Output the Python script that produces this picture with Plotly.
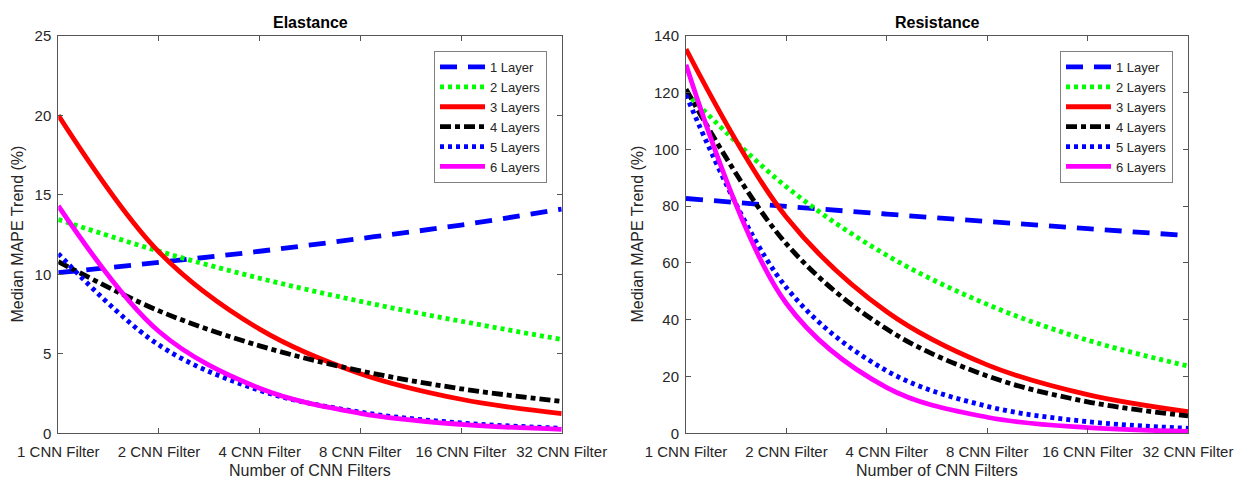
import plotly.graph_objects as go

filters = ["1 CNN Filter", "2 CNN Filter", "4 CNN Filter", "8 CNN Filter", "16 CNN Filter", "32 CNN Filter"]
layer_names = ["1 Layer", "2 Layers", "3 Layers", "4 Layers", "5 Layers", "6 Layers"]

# Elastance median MAPE trend (%)
el_1 = [10.1, 10.75, 11.45, 12.25, 13.1, 14.1]
el_2 = [13.45, 11.45, 9.75, 8.3, 7.05, 5.9]
el_3 = [20.0, 11.4, 6.55, 3.75, 2.14, 1.23]
el_4 = [10.8, 7.7, 5.5, 3.93, 2.8, 2.0]
el_5 = [11.3, 5.55, 2.7, 1.33, 0.65, 0.32]
el_6 = [14.3, 6.4, 2.83, 1.26, 0.56, 0.25]

# Resistance median MAPE trend (%)
re_1 = [82.7, 79.9, 77.2, 74.6, 72.1, 69.6]
re_2 = [120.0, 86.8, 62.7, 45.4, 32.8, 23.7]
re_3 = [135.3, 76.1, 42.8, 24.1, 13.6, 7.6]
re_4 = [121.2, 66.7, 36.7, 20.2, 11.1, 6.1]
re_5 = [119.2, 51.3, 22.0, 9.5, 4.1, 1.76]
re_6 = [129.8, 45.7, 16.1, 5.66, 2.0, 0.7]

el_ticks = [0, 5, 10, 15, 20, 25]
re_ticks = [0, 20, 40, 60, 80, 100, 120, 140]

colors = ["#0000FF", "#00FF00", "#FF0000", "#000000", "#0000FF", "#FF00FF"]
dashes = ["17px,11px", "4px,4px", "solid", "11px,4px,5px,4px", "4px,4px", "solid"]

FONT = "Liberation Sans, Arial, Helvetica, sans-serif"
TXT = "#262626"

fig = go.Figure()

for i, ys in enumerate([el_1, el_2, el_3, el_4, el_5, el_6]):
    fig.add_trace(go.Scatter(
        x=filters, y=ys, mode="lines", name=layer_names[i],
        line=dict(color=colors[i], width=4.8, dash=dashes[i], shape="spline"),
        xaxis="x", yaxis="y", legend="legend"))

for i, ys in enumerate([re_1, re_2, re_3, re_4, re_5, re_6]):
    fig.add_trace(go.Scatter(
        x=filters, y=ys, mode="lines", name=layer_names[i],
        line=dict(color=colors[i], width=4.8, dash=dashes[i], shape="spline"),
        xaxis="x2", yaxis="y2", legend="legend2"))

W, H = 1247, 481
left_dom = [58.3 / W, 561.7 / W]
right_dom = [686 / W, 1188 / W]
y_dom = [1 - 433.3 / H, 1 - 35.8 / H]

axis_common = dict(
    showline=True, linecolor="#555555", linewidth=1, mirror="ticks",
    ticks="inside", ticklen=5, tickcolor="#555555", showgrid=False, zeroline=False,
    automargin=False,
    tickfont=dict(family=FONT, size=15, color=TXT),
)

legend_common = dict(
    xanchor="right", yanchor="top", bgcolor="white", bordercolor="#808080",
    borderwidth=1, font=dict(family=FONT, size=13, color=TXT), tracegroupgap=0,
    itemwidth=45,
)

fig.update_layout(
    width=W, height=H,
    margin=dict(l=0, r=0, t=0, b=0, autoexpand=False),
    paper_bgcolor="white", plot_bgcolor="white",
    font=dict(family=FONT, color=TXT),
    xaxis=dict(domain=left_dom, anchor="y", type="category", range=[0, 5],
               ticklabelstandoff=5, **axis_common),
    yaxis=dict(domain=y_dom, anchor="x", range=[0, 25], tickvals=el_ticks,
               ticklabelstandoff=3, **axis_common),
    xaxis2=dict(domain=right_dom, anchor="y2", type="category", range=[0, 5],
                ticklabelstandoff=5, **axis_common),
    yaxis2=dict(domain=y_dom, anchor="x2", range=[0, 140], tickvals=re_ticks,
                ticklabelstandoff=3, **axis_common),
    legend=dict(x=547 / W, y=1 - 51 / H, **legend_common),
    legend2=dict(x=1173 / W, y=1 - 51 / H, **legend_common),
    showlegend=True,
)

annotations = [
    dict(text="<b>Elastance</b>", x=(left_dom[0] + left_dom[1]) / 2, y=1 - 22 / H,
         font=dict(size=16, color="#000000")),
    dict(text="<b>Resistance</b>", x=(right_dom[0] + right_dom[1]) / 2, y=1 - 22 / H,
         font=dict(size=16, color="#000000")),
    dict(text="Number of CNN Filters", x=(left_dom[0] + left_dom[1]) / 2, y=1 - 470 / H,
         font=dict(size=16, color=TXT)),
    dict(text="Number of CNN Filters", x=(right_dom[0] + right_dom[1]) / 2, y=1 - 470 / H,
         font=dict(size=16, color=TXT)),
    dict(text="Median MAPE Trend (%)", x=18 / W, y=(y_dom[0] + y_dom[1]) / 2,
         textangle=-90, font=dict(size=16, color=TXT)),
    dict(text="Median MAPE Trend (%)", x=638 / W, y=(y_dom[0] + y_dom[1]) / 2,
         textangle=-90, font=dict(size=16, color=TXT)),
]
for a in annotations:
    a.update(xref="paper", yref="paper", showarrow=False, xanchor="center", yanchor="middle")
    a["font"]["family"] = FONT
fig.update_layout(annotations=annotations)

fig.write_html("out.html")
